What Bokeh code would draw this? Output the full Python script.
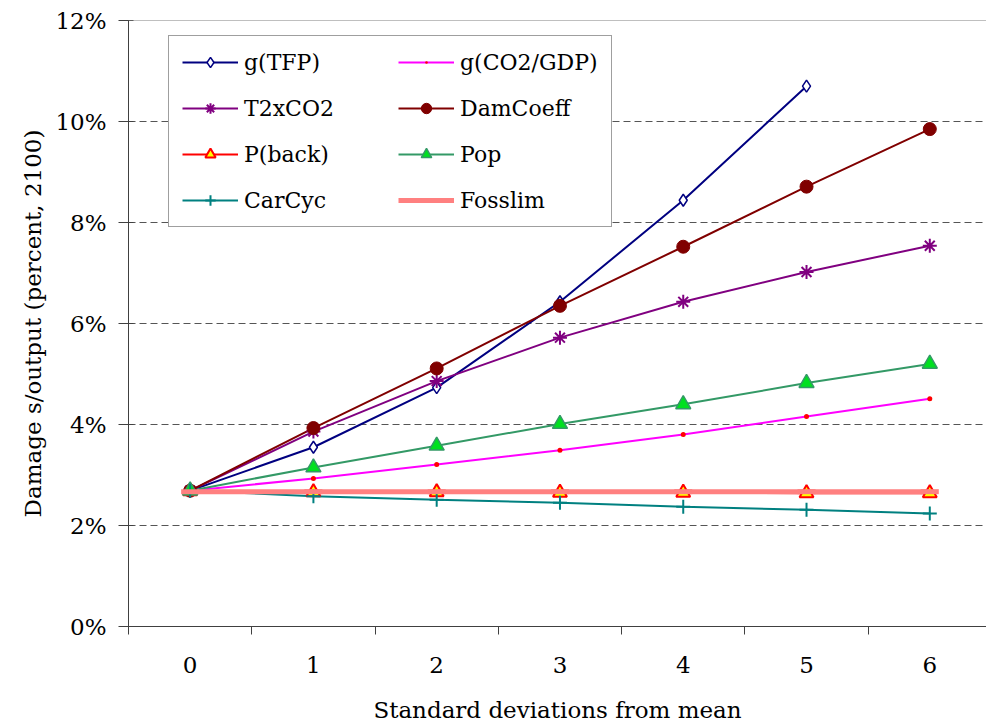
from bokeh.plotting import figure
from bokeh.models import FixedTicker, Span, Legend, LegendItem, Range1d
from bokeh.embed import file_html
from bokeh.resources import INLINE

# ---- data ----
sd = [0, 1, 2, 3, 4, 5, 6]
g_tfp = [2.69, 3.55, 4.73, 6.43, 8.44, 10.70]
g_co2gdp = [2.69, 2.93, 3.21, 3.49, 3.80, 4.16, 4.51]
t2xco2 = [2.69, 3.86, 4.86, 5.72, 6.43, 7.02, 7.54]
damcoeff = [2.69, 3.93, 5.11, 6.35, 7.52, 8.71, 9.85]
pback = [2.68, 2.66, 2.66, 2.65, 2.65, 2.64, 2.64]
pop = [2.69, 3.15, 3.58, 4.01, 4.40, 4.82, 5.20]
carcyc = [2.69, 2.58, 2.51, 2.45, 2.37, 2.31, 2.24]
fosslim = [2.67, 2.67, 2.67, 2.67, 2.67, 2.67, 2.67]
y_ticks = [0, 2, 4, 6, 8, 10, 12]
y_tick_labels = ["0%", "2%", "4%", "6%", "8%", "10%", "12%"]

FONT = "DejaVu Serif"
AXC = "#404040"

p = figure(width=986, height=725, output_backend="svg", toolbar_location=None,
           x_range=Range1d(-0.5, 6.46), y_range=Range1d(0, 12),
           min_border_left=128, min_border_right=0, min_border_top=20, min_border_bottom=98)
p.outline_line_color = None
p.background_fill_color = "white"
p.border_fill_color = "white"

series = [
    ("g(TFP)", sd[:len(g_tfp)], g_tfp, dict(line_color="#000080", line_width=2),
     dict(marker="diamond", size=12, fill_color="white", line_color="#000080", line_width=1.5)),
    ("g(CO2/GDP)", sd, g_co2gdp, dict(line_color="#FF00FF", line_width=2),
     dict(marker="dot", size=20, fill_color="#FF0000", line_color="#FF0000", line_width=1)),
    ("T2xCO2", sd, t2xco2, dict(line_color="#800080", line_width=2),
     dict(marker="asterisk", size=14, line_color="#800080", line_width=2)),
    ("DamCoeff", sd, damcoeff, dict(line_color="#800000", line_width=2),
     dict(marker="circle", size=13, fill_color="#800000", line_color="#800000", line_width=1)),
    ("P(back)", sd, pback, dict(line_color="#FF0000", line_width=2),
     dict(marker="triangle", size=14, fill_color="#FFFF00", line_color="#FF0000", line_width=2)),
    ("Pop", sd, pop, dict(line_color="#339966", line_width=2),
     dict(marker="triangle", size=15, fill_color="#00E020", line_color="#339966", line_width=1.5)),
    ("CarCyc", sd, carcyc, dict(line_color="#008080", line_width=2),
     dict(marker="cross", size=14, line_color="#008080", line_width=2)),
    ("Fosslim", sd, fosslim, dict(line_color="#FF8080", line_width=5),
     dict(marker="dash", size=18, line_color="#FF8080", line_width=5)),
]

line_r = {}
for name, xs, ys, lk, mk in series:
    line_r[name] = p.line(xs, ys, **lk)
items = []
for name, xs, ys, lk, mk in series:
    sr = p.scatter(xs, ys, **mk)
    items.append(LegendItem(label=name, renderers=[line_r[name], sr]))

legend = Legend(items=items, location=(40, 399), orientation="horizontal", ncols=2,
                label_text_font=FONT, label_text_font_size="22px", label_text_color="black",
                glyph_width=56, glyph_height=26, label_standoff=6, label_width=134,
                spacing=20, padding=13, margin=0,
                border_line_color=AXC, border_line_width=1, background_fill_color="white",
                background_fill_alpha=1.0)
p.add_layout(legend)

# top border at 12%
p.add_layout(Span(location=12, dimension="width", line_color="#808080", line_width=1))

# y axis
p.yaxis.ticker = FixedTicker(ticks=y_ticks)
p.yaxis.major_label_overrides = {t: l for t, l in zip(y_ticks, y_tick_labels)}
p.yaxis.axis_label = "Damage s/output (percent, 2100)"
p.yaxis.axis_label_text_font = FONT
p.yaxis.axis_label_text_font_style = "normal"
p.yaxis.axis_label_text_font_size = "23px"
p.yaxis.axis_label_text_color = "black"
p.yaxis.axis_label_standoff = 6
p.yaxis.major_label_text_font = FONT
p.yaxis.major_label_text_font_size = "23px"
p.yaxis.major_label_text_color = "black"
p.yaxis.major_label_standoff = 12
p.yaxis.major_tick_out = 10
p.yaxis.major_tick_in = 5
p.yaxis.minor_tick_line_color = None
p.yaxis.axis_line_color = AXC
p.yaxis.major_tick_line_color = AXC

# x axis
p.xaxis.ticker = FixedTicker(ticks=sd, minor_ticks=[-0.5, 0.5, 1.5, 2.5, 3.5, 4.5, 5.5, 6.5])
p.xaxis.major_tick_out = 0
p.xaxis.major_tick_in = 0
p.xaxis.minor_tick_out = 8
p.xaxis.minor_tick_in = 0
p.xaxis.minor_tick_line_color = AXC
p.xaxis.axis_line_color = AXC
p.xaxis.axis_label = "Standard deviations from mean"
p.xaxis.axis_label_text_font = FONT
p.xaxis.axis_label_text_font_style = "normal"
p.xaxis.axis_label_text_font_size = "23px"
p.xaxis.axis_label_text_color = "black"
p.xaxis.axis_label_standoff = 21
p.xaxis.major_label_text_font = FONT
p.xaxis.major_label_text_font_size = "23px"
p.xaxis.major_label_text_color = "black"
p.xaxis.major_label_standoff = 22

# grid
p.xgrid.visible = False
p.ygrid.ticker = FixedTicker(ticks=[2, 4, 6, 8, 10])
p.ygrid.grid_line_color = "#555555"
p.ygrid.grid_line_dash = "7 4"
p.ygrid.grid_line_width = 1

open("out.html", "w").write(file_html(p, INLINE))
